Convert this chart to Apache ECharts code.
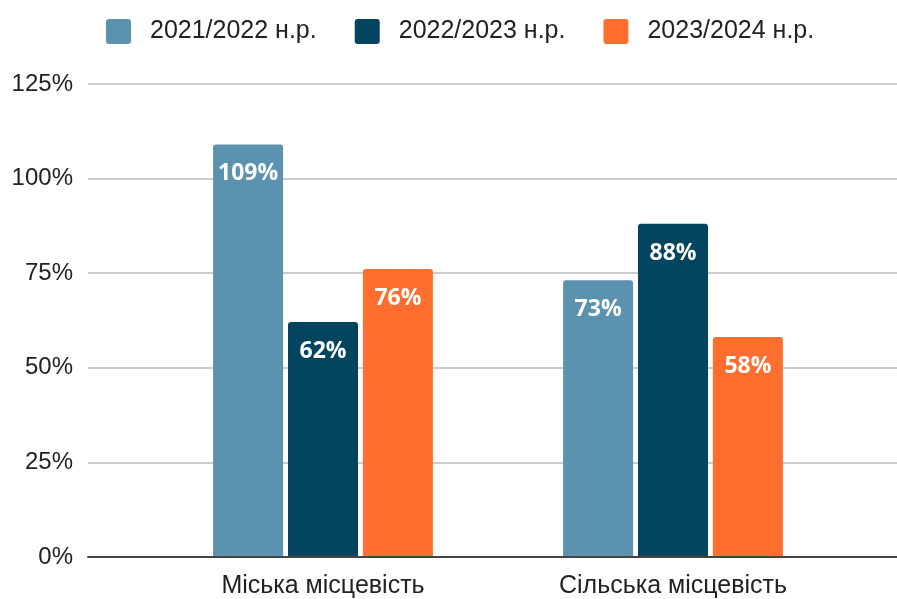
<!DOCTYPE html>
<html>
<head>
<meta charset="utf-8">
<script src="https://cdn.jsdelivr.net/npm/echarts@6/dist/echarts.min.js"></script>
<style>
  html, body { margin: 0; padding: 0; background: #fff; }
  #chart { width: 897px; height: 599px; }
</style>
</head>
<body>
<div id="chart"></div>
<script>
const categories = ['Міська місцевість', 'Сільська місцевість'];
const seriesNames = ['2021/2022 н.р.', '2022/2023 н.р.', '2023/2024 н.р.'];
const values2122 = [109, 73];
const values2223 = [62, 88];
const values2324 = [76, 58];
const yTicks = [0, 25, 50, 75, 100, 125];
const colors = ['#5b92b0', '#03445f', '#ff6d2f'];

const myChart = echarts.init(document.getElementById('chart'));

const makeSeries = (name, data, i) => ({
  name: name,
  type: 'bar',
  xAxisIndex: 1,
  yAxisIndex: 1,
  data: data,
  barWidth: 70,
  barGap: '7%',
  itemStyle: { color: colors[i], borderRadius: [3, 3, 0, 0] },
  label: {
    show: true,
    position: 'insideTop',
    distance: 18,
    formatter: '{c}%',
    color: '#fff',
    fontFamily: 'Open Sans',
    fontWeight: 'bold',
    fontSize: 23
  }
})

let option = {
  animation: false,
  color: colors,
  textStyle: { fontFamily: 'Liberation Sans' },
  legend: {
    data: seriesNames,
    left: 101,
    top: 14,
    itemWidth: 25,
    itemHeight: 25,
    itemGap: 38,
    icon: 'path://M3,0 H22 Q25,0 25,3 V22 Q25,25 22,25 H3 Q0,25 0,22 V3 Q0,0 3,0 Z',
    textStyle: {
      fontSize: 25,
      color: '#222',
      padding: [0, 0, 0, 14]
    }
  },
  grid: [
    // 背景网格（横线延伸到右边）
    { left: 88, right: 0, top: 84, bottom: 42 },
    // 柱子所在区域
    { left: 148, right: 49, top: 84, bottom: 42 }
  ],
  xAxis: [
    {
      gridIndex: 0,
      type: 'category',
      data: [''],
      z: 5,
      axisLine: { show: true, lineStyle: { color: '#444', width: 2 } },
      axisTick: { show: false },
      axisLabel: { show: false }
    },
    {
      gridIndex: 1,
      type: 'category',
      data: categories,
      axisLine: { show: false },
      axisTick: { show: false },
      axisLabel: { fontSize: 25, color: '#222', margin: 18 }
    }
  ],
  yAxis: [
    {
      gridIndex: 0,
      type: 'value',
      min: yTicks[0],
      max: yTicks[yTicks.length - 1],
      interval: 25,
      axisLine: { show: false },
      axisTick: { show: false },
      axisLabel: { fontSize: 24, color: '#222', margin: 15, formatter: '{value}%' },
      splitLine: { lineStyle: { color: '#cccccc', width: 2 } }
    },
    {
      gridIndex: 1,
      type: 'value',
      min: yTicks[0],
      max: yTicks[yTicks.length - 1],
      interval: 25,
      show: false,
      splitLine: { show: false }
    }
  ],
  series: [
    makeSeries(seriesNames[0], values2122, 0),
    makeSeries(seriesNames[1], values2223, 1),
    makeSeries(seriesNames[2], values2324, 2)
  ]
};
myChart.setOption(option);
</script>
</body>
</html>
